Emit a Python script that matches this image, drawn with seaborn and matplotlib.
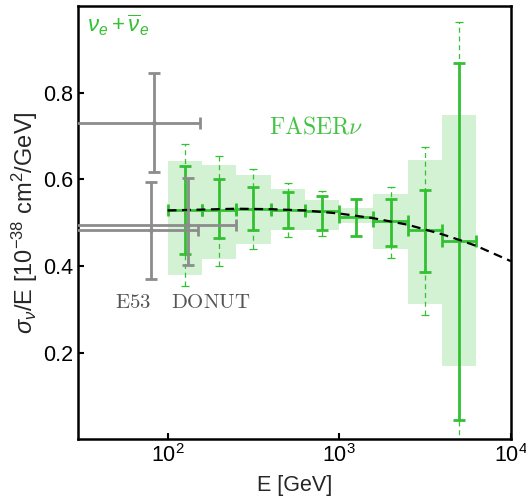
import numpy as np
import pandas as pd
import matplotlib
matplotlib.use("Agg")
import matplotlib.pyplot as plt
import seaborn as sns

# ---------------- data ----------------
bin_left = [100.0, 158.5, 251.2, 398.1, 631.0, 1000.0, 1585.0, 2512.0, 3981.0]
bin_right = [158.5, 251.2, 398.1, 631.0, 1000.0, 1585.0, 2512.0, 3981.0, 6310.0]
bin_center = [125.9, 199.5, 316.2, 501.2, 794.3, 1259.0, 1995.0, 3162.0, 5012.0]
faser_val = [0.529, 0.530, 0.532, 0.530, 0.526, 0.514, 0.503, 0.482, 0.457]
stat_hi = [0.631, 0.600, 0.581, 0.570, 0.561, 0.555, 0.555, 0.576, 0.869]
stat_lo = [0.428, 0.465, 0.484, 0.488, 0.484, 0.470, 0.445, 0.385, 0.045]
tot_hi = [0.681, 0.653, 0.623, 0.592, 0.572, 0.555, 0.583, 0.675, 0.962]
tot_lo = [0.354, 0.399, 0.439, 0.467, 0.468, 0.470, 0.418, 0.287, -0.05]
band_hi = [0.642, 0.632, 0.609, 0.578, 0.551, 0.534, 0.565, 0.644, 0.748]
band_lo = [0.378, 0.416, 0.451, 0.482, 0.482, 0.498, 0.438, 0.313, 0.168]

curve_E = [100, 158.5, 251.2, 398.1, 631.0, 1000, 1585, 2512, 3981, 5012, 6310, 10000]
curve_val = [0.528, 0.530, 0.532, 0.531, 0.528, 0.521, 0.510, 0.495, 0.473, 0.460, 0.446, 0.411]

old_names = ["E53", "E53", "DONUT"]
old_E = [83.0, 80.0, 131.0]
old_val = [0.731, 0.483, 0.494]
old_hi = [0.845, 0.593, 0.603]
old_lo = [0.616, 0.370, 0.402]
old_Elo = [20.0, 20.0, 20.0]
old_Ehi = [154.0, 150.0, 251.0]

x_ticks = [100, 1000, 10000]
y_ticks = [0.2, 0.4, 0.6, 0.8]

# ---------------- style ----------------
sns.set_theme(style="ticks")
plt.rcParams["font.family"] = ["Liberation Sans", "DejaVu Sans"]
plt.rcParams["mathtext.fontset"] = "custom"
plt.rcParams["mathtext.rm"] = "Liberation Sans"
plt.rcParams["mathtext.it"] = "Liberation Sans:italic"
plt.rcParams["mathtext.bf"] = "Liberation Sans:bold"

GREEN = "#33C033"
BAND = "#D3F1D3"
GRAY = "#8C8C8C"

fig = plt.figure(figsize=(5.26, 5.03), dpi=100)
ax = fig.add_axes([0.148, 0.127, 0.823, 0.861])

df = pd.DataFrame({"left": bin_left, "right": bin_right, "c": bin_center, "v": faser_val,
                   "shi": stat_hi, "slo": stat_lo, "thi": tot_hi, "tlo": tot_lo,
                   "bhi": band_hi, "blo": band_lo})

# shaded band
ax.bar(df["left"], df["bhi"] - df["blo"], bottom=df["blo"], width=df["right"] - df["left"],
       align="edge", color=BAND, edgecolor="none", zorder=1)

# total (dashed) errors
eb = ax.errorbar(df["c"], df["v"], yerr=[df["v"] - df["tlo"], df["thi"] - df["v"]], fmt="none",
                 ecolor=GREEN, elinewidth=0.9, capsize=3.0, capthick=0.9, zorder=2)
for lc in eb[2]:
    lc.set_linestyle((0, (4, 3)))

# stat errors
ax.errorbar(df["c"], df["v"], yerr=[df["v"] - df["slo"], df["shi"] - df["v"]],
            xerr=[df["c"] - df["left"], df["right"] - df["c"]], fmt="none",
            ecolor=GREEN, elinewidth=2.0, capsize=4.5, capthick=2.0, zorder=3)

# theory curve
sns.lineplot(x=curve_E, y=curve_val, ax=ax, color="black", linestyle=(0, (4, 2.5)),
             linewidth=1.6, zorder=4)

# old experiments
ax.errorbar(old_E, old_val,
            yerr=[np.array(old_val) - np.array(old_lo), np.array(old_hi) - np.array(old_val)],
            xerr=[np.array(old_E) - np.array(old_Elo), np.array(old_Ehi) - np.array(old_E)],
            fmt="o", ms=2.5, color=GRAY, ecolor=GRAY, elinewidth=2.0, capsize=4.5,
            capthick=2.0, zorder=5)

ax.set_xscale("log")
ax.set_xlim(30, 10000)
ax.set_ylim(0, 1.0)
ax.set_xticks(x_ticks)
ax.set_yticks(y_ticks)
ax.set_yticklabels([f"{t:.1f}" for t in y_ticks])
ax.minorticks_off()
ax.tick_params(direction="in", length=4, width=1.5, labelsize=15.5, colors="black",
               top=False, right=False)
for s in ax.spines.values():
    s.set_linewidth(1.8)
    s.set_color("black")

ax.set_xlabel("E [GeV]", fontsize=15.5, labelpad=6)
ax.set_ylabel(r"$\sigma_\nu$/E [10$^{-38}$ cm$^2$/GeV]", fontsize=17, labelpad=2)

ax.text(0.021, 0.985, r"$\nu_e + \overline{\nu}_e$", transform=ax.transAxes, color=GREEN,
        fontsize=16, ha="left", va="top")
ax.text(733, 0.72, r"$\mathrm{FASER}\nu$", math_fontfamily="cm", color="#44C444",
        fontsize=17, ha="center", va="center")
ax.text(63, 0.315, r"$\mathrm{E53}$", math_fontfamily="cm", color="#555555",
        fontsize=15, ha="center", va="center")
ax.text(178, 0.315, r"$\mathrm{DONUT}$", math_fontfamily="cm", color="#555555",
        fontsize=15, ha="center", va="center")

fig.savefig("out.png", dpi=100)
